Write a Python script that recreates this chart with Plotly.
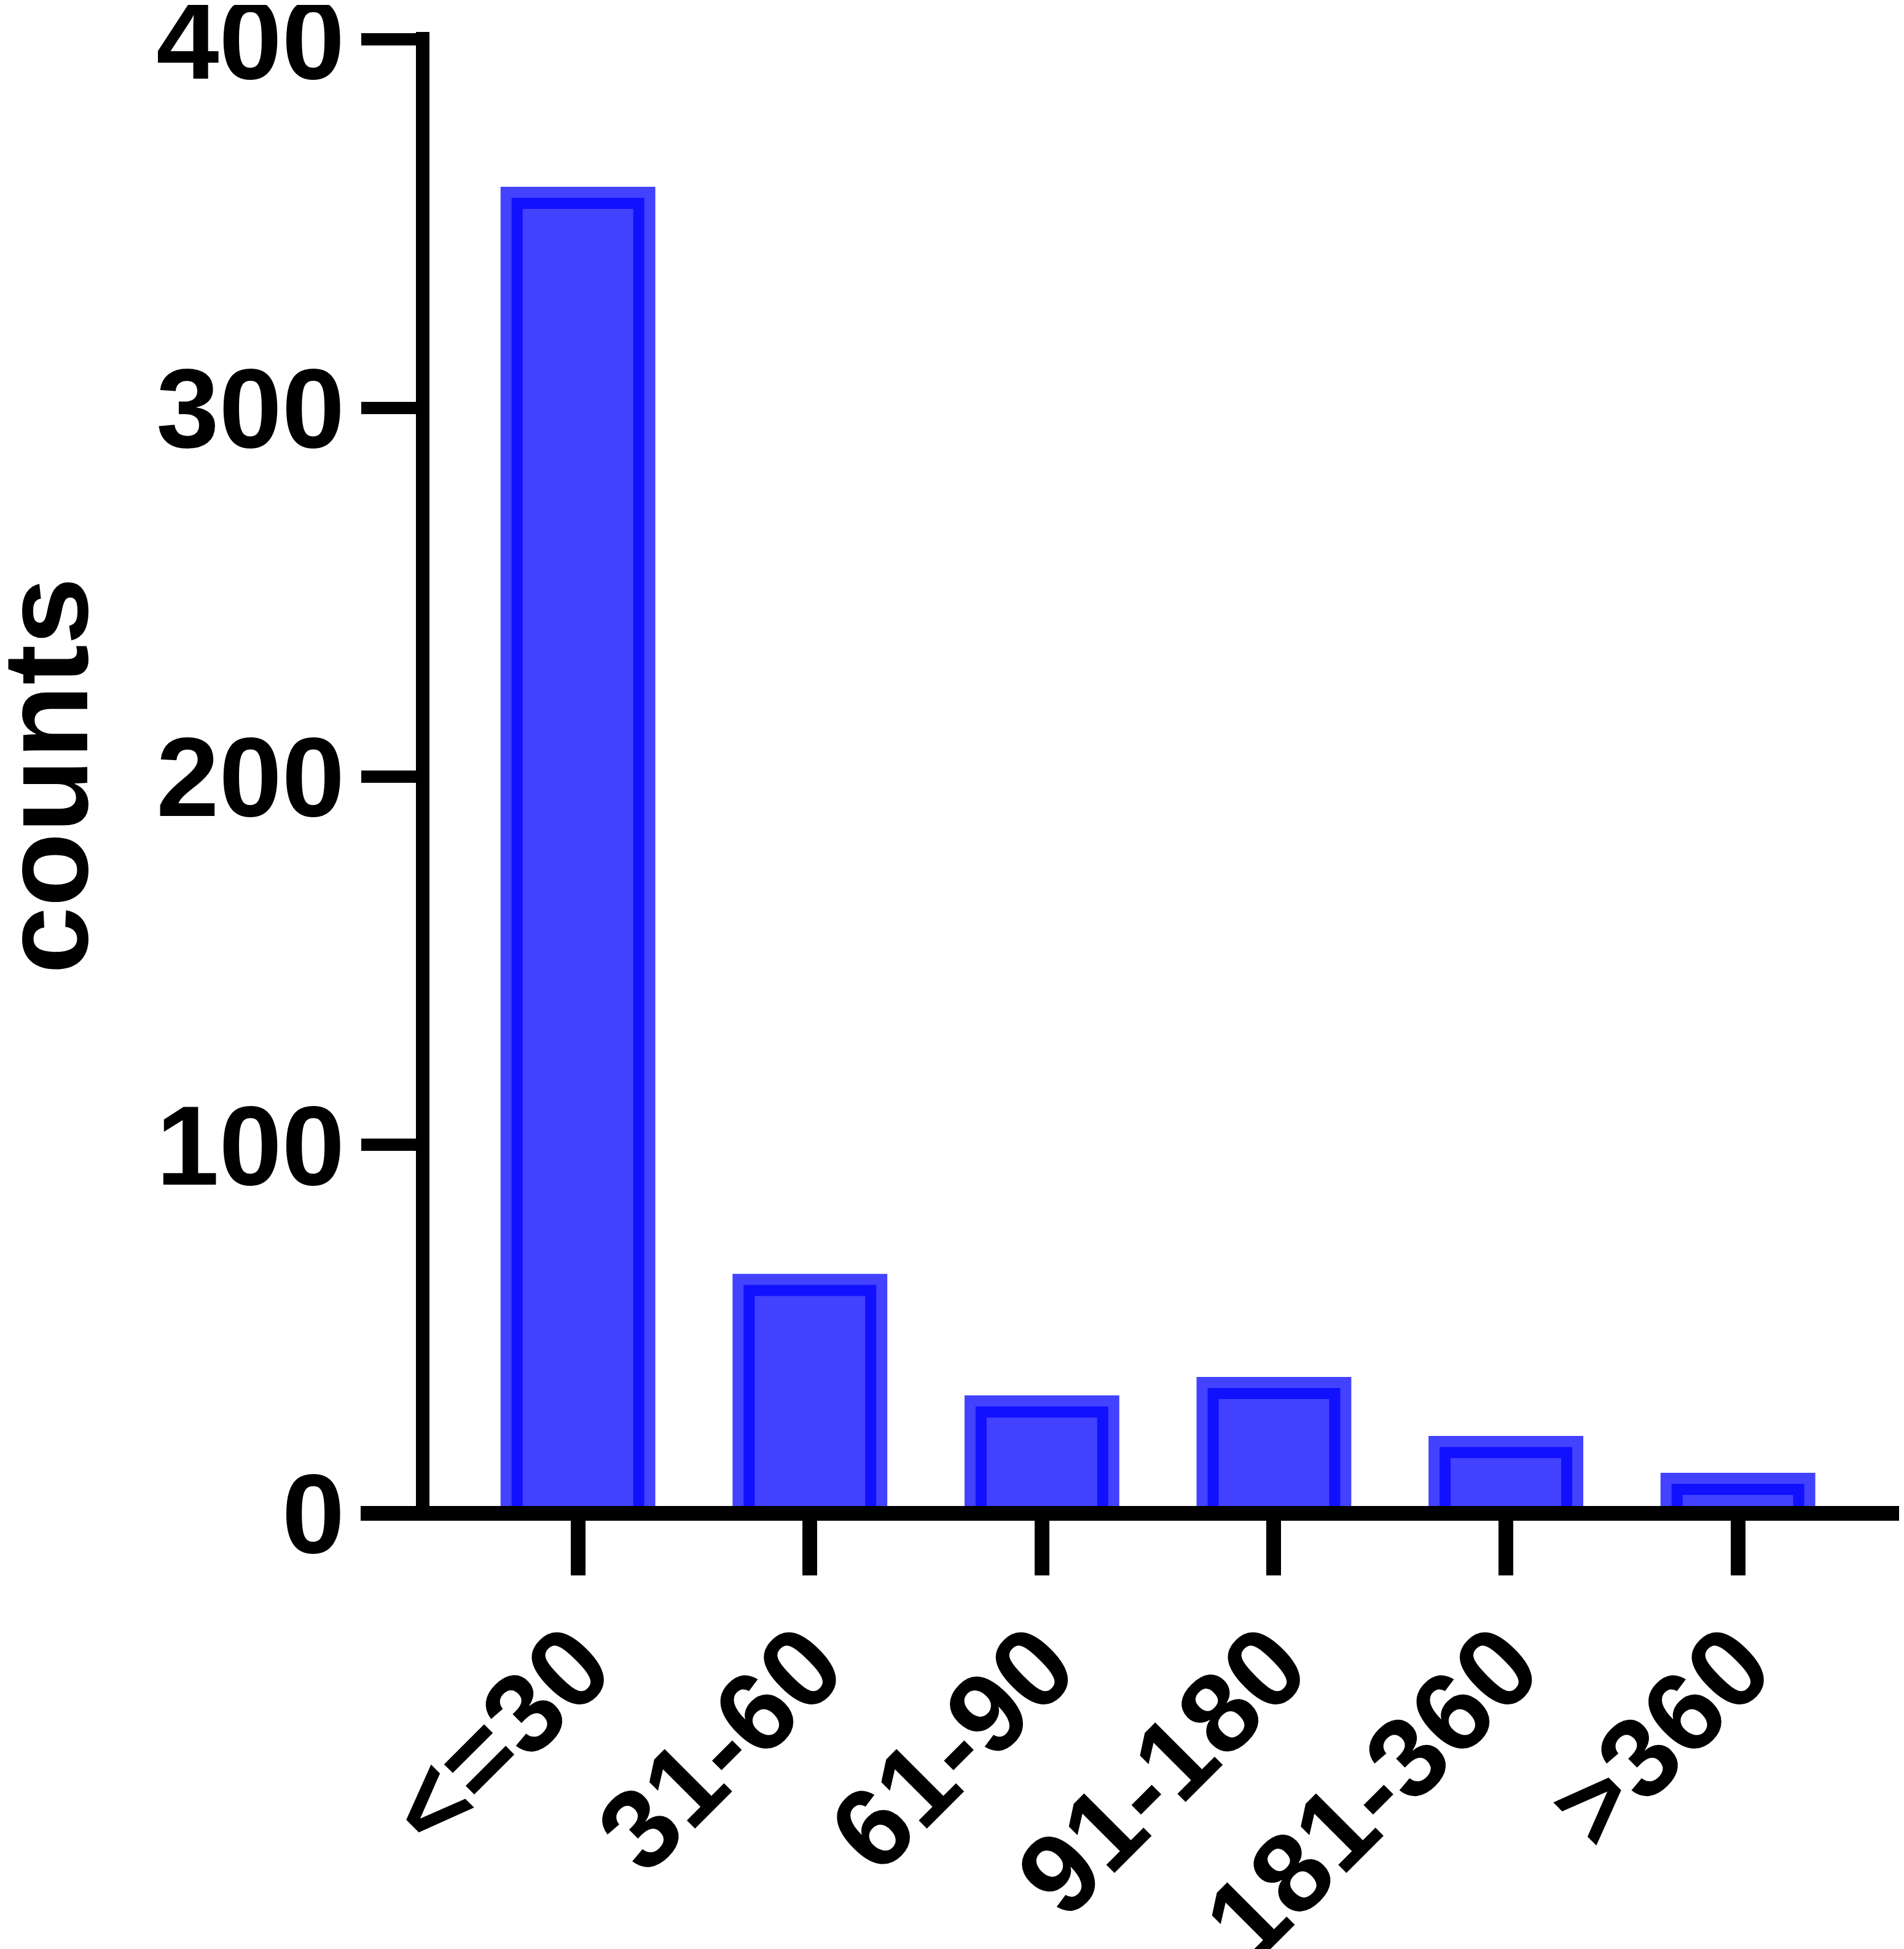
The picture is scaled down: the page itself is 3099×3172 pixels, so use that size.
import plotly.graph_objects as go

# data
categories = ["<=30", "31-60", "61-90", "91-180", "181-360", ">360"]
counts = [360, 65, 32, 37, 21, 11]
y_ticks = [0, 100, 200, 300, 400]

W, H = 3099, 3172
ml, mr, mt, mb = 691, 0, 44, 717   # page body adds 8px top/left
y_range = [0, 402]
plot_w = W - ml - mr
plot_h = H - mt - mb
px_per_unit = plot_h / (y_range[1] - y_range[0])
px_per_cat = 377.6

light = "rgb(66,66,255)"
dark = "rgb(17,17,255)"

# Prism style border: outer light band, then dark band inset
inset = 27 / px_per_unit

font = dict(family="Liberation Sans, Arial, sans-serif", color="black", weight="bold")

fig = go.Figure()

# outer bar
fig.add_trace(go.Bar(
    x=categories, y=counts, width=0.667,
    marker=dict(color=light, line=dict(width=0)),
    showlegend=False, hoverinfo="x+y",
))
# inner outline
fig.add_trace(go.Bar(
    x=categories, y=counts, base=[-inset] * len(counts), width=0.524,
    marker=dict(color=light, line=dict(width=18, color=dark)),
    showlegend=False, hoverinfo="skip",
))

# x axis baseline centred on y=0, running out to the end of the y ticks
fig.add_shape(
    type="line", xref="paper", yref="paper", x0=-112 / plot_w, x1=1.01, y0=0, y1=0,
    line=dict(color="black", width=24), layer="above",
)

# y axis title (axis title can't sit this far out into the margin)
fig.add_annotation(
    text="counts", textangle=-90, showarrow=False,
    xref="paper", yref="paper", x=-625 / plot_w, y=0.498,
    xanchor="center", yanchor="middle",
    font=dict(size=197, **font),
)

fig.update_layout(
    width=W, height=H,
    margin=dict(l=ml, r=mr, t=mt, b=mb, pad=0, autoexpand=False),
    barmode="overlay",
    paper_bgcolor="white", plot_bgcolor="white",
    font=font,
)

x0 = -0.640
fig.update_xaxes(
    type="category", range=[x0, x0 + plot_w / px_per_cat], automargin=False,
    showline=False,
    ticks="outside", ticklen=100, tickwidth=24, tickcolor="black",
    tickangle=-45, tickfont=dict(size=184, **font),
    ticklabeloverflow="allow", ticklabelstandoff=-34,
    showgrid=False, zeroline=False,
)
fig.update_yaxes(
    range=y_range, tickvals=y_ticks, automargin=False,
    showline=True, linewidth=22, linecolor="black",
    ticks="outside", ticklen=89, tickwidth=20, tickcolor="black",
    tickfont=dict(size=184, **font),
    ticklabeloverflow="allow", ticklabelstandoff=-10,
    showgrid=False, zeroline=False,
)

fig.write_html("out.html")
